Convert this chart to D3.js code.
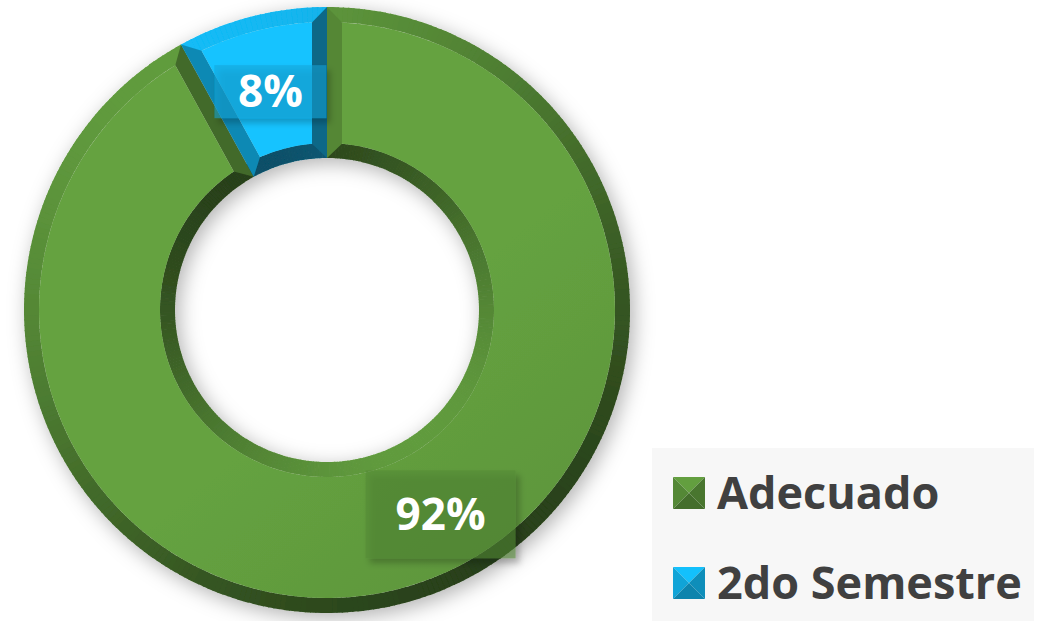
<!DOCTYPE html>
<html>
<head>
<meta charset="utf-8">
<script src="https://cdn.jsdelivr.net/npm/d3@7"></script>
<style>
  body { margin: 0; background: #fff; }
  svg { display: block; }
  text { font-family: "Open Sans", "DejaVu Sans", sans-serif; font-weight: 700; }
</style>
</head>
<body>
<div id="chart"></div>
<script>
var categories = ["Adecuado", "2do Semestre"];
var values = [92, 8];
var labels = ["92%", "8%"];
var colors = ["#5e973c", "#12b6ef"];

(function() {
  var width = 1041, height = 621;
  var cx = 327, cy = 310,
      outerR = 303, innerR = 152, bevel = 15;

  // light comes from the top left
  var light = [-0.55, -0.83];
  var ln = Math.sqrt(light[0] * light[0] + light[1] * light[1]);
  light = [light[0] / ln, light[1] / ln];

  function shade(c, n) {
    var dot = n[0] * light[0] + n[1] * light[1];
    var f = 0.73 + 0.3 * dot;
    var rgb = d3.rgb(c);
    return d3.rgb(Math.min(255, rgb.r * f), Math.min(255, rgb.g * f), Math.min(255, rgb.b * f)).toString();
  }
  function dir(a) { return [Math.sin(a), -Math.cos(a)]; }

  var svg = d3.select("#chart")
    .append("svg")
    .attr("width", width)
    .attr("height", height);

  var defs = svg.append("defs");

  var shadow = defs.append("filter")
    .attr("id", "ringShadow")
    .attr("x", "-20%").attr("y", "-20%")
    .attr("width", "140%").attr("height", "140%");
  shadow.append("feDropShadow")
    .attr("dx", 4).attr("dy", 5)
    .attr("stdDeviation", 10)
    .attr("flood-color", "#000")
    .attr("flood-opacity", 0.3);

  var boxShadow = defs.append("filter")
    .attr("id", "boxShadow")
    .attr("x", "-20%").attr("y", "-20%")
    .attr("width", "150%").attr("height", "150%");
  boxShadow.append("feDropShadow")
    .attr("dx", 4).attr("dy", 5)
    .attr("stdDeviation", 3)
    .attr("flood-color", "#000")
    .attr("flood-opacity", 0.4);

  colors.forEach(function(c, i) {
    var g = defs.append("linearGradient")
      .attr("id", "face" + i)
      .attr("gradientUnits", "userSpaceOnUse")
      .attr("x1", cx - outerR * 0.8).attr("y1", cy - outerR)
      .attr("x2", cx + outerR * 0.8).attr("y2", cy + outerR);
    g.append("stop").attr("offset", "0%").attr("stop-color", d3.rgb(c).brighter(0.2));
    g.append("stop").attr("offset", "100%").attr("stop-color", d3.rgb(c).darker(0.5));
  });

  var pie = d3.pie().sort(null).value(function(d) { return d; });
  var arcs = pie(values);

  var donut = svg.append("g")
    .attr("transform", "translate(" + cx + "," + cy + ")")
    .attr("filter", "url(#ringShadow)");

  var step = Math.PI / 180;

  arcs.forEach(function(a, i) {
    var c = colors[i];
    var slice = donut.append("g").attr("class", "slice slice-" + i);

    // outer and inner bevel rings, lit piece by piece
    var angles = d3.range(a.startAngle, a.endAngle, step);
    angles.forEach(function(t) {
      var t2 = Math.min(t + step + 0.004, a.endAngle);
      var mid = (t + t2) / 2;
      var d = dir(mid);
      slice.append("path")
        .attr("d", d3.arc()({ innerRadius: outerR - bevel, outerRadius: outerR, startAngle: t, endAngle: t2 }))
        .attr("fill", shade(c, d));
      slice.append("path")
        .attr("d", d3.arc()({ innerRadius: innerR, outerRadius: innerR + bevel, startAngle: t, endAngle: t2 }))
        .attr("fill", shade(c, [-d[0], -d[1]]));
    });

    // radial bevels with mitred corners
    var ro = Math.sqrt((outerR - bevel) * (outerR - bevel) - bevel * bevel),
        ri = Math.sqrt((innerR + bevel) * (innerR + bevel) - bevel * bevel);
    [[a.startAngle, 1], [a.endAngle, -1]].forEach(function(e) {
      var t = e[0], s = e[1];
      var d = dir(t), tan = [Math.cos(t), Math.sin(t)];
      var pts = [
        [d[0] * outerR, d[1] * outerR],
        [d[0] * ro + s * bevel * tan[0], d[1] * ro + s * bevel * tan[1]],
        [d[0] * ri + s * bevel * tan[0], d[1] * ri + s * bevel * tan[1]],
        [d[0] * innerR, d[1] * innerR]
      ];
      slice.append("path")
        .attr("d", "M" + pts.join("L") + "Z")
        .attr("fill", shade(c, [-s * tan[0], -s * tan[1]]));
    });

    // flat face
    slice.append("path")
      .attr("d", d3.arc()
        .innerRadius(innerR + bevel)
        .outerRadius(outerR - bevel)
        .padRadius(outerR)
        .padAngle(2 * bevel / outerR)(a))
      .attr("fill", "url(#face" + i + ")");
  });

  // data labels
  var labelArc = d3.arc().innerRadius(innerR).outerRadius(outerR);
  var labelNudge = [[57, -16], [0, 2]];
  var labelBox = [[150, 88], [112, 53]];
  arcs.forEach(function(a, i) {
    var p = labelArc.centroid(a);
    var x = cx + p[0] + labelNudge[i][0],
        y = cy + p[1] + labelNudge[i][1];
    var g = svg.append("g").attr("class", "data-label")
      .attr("transform", "translate(" + x + "," + y + ")");
    g.append("rect")
      .attr("x", -labelBox[i][0] / 2)
      .attr("y", -labelBox[i][1] / 2)
      .attr("width", labelBox[i][0])
      .attr("height", labelBox[i][1])
      .attr("fill", d3.rgb(colors[i]).darker(0.3))
      .attr("fill-opacity", 0.55)
      .attr("filter", "url(#boxShadow)");
    g.append("text")
      .text(labels[i])
      .attr("text-anchor", "middle")
      .attr("dy", "0.36em")
      .attr("fill", "#fff")
      .attr("font-size", 44);
  });

  // legend
  var legend = svg.append("g").attr("class", "legend");
  legend.append("rect")
    .attr("x", 652).attr("y", 448)
    .attr("width", 382).attr("height", 173)
    .attr("fill", "#f7f7f7");

  var legendY = d3.scalePoint()
    .domain(categories)
    .range([493, 583]);

  categories.forEach(function(name, i) {
    var c = d3.rgb(colors[i]);
    var y = legendY(name), x = 673, s = 32;
    var item = legend.append("g")
      .attr("transform", "translate(" + x + "," + (y - s / 2) + ")");
    var tris = [
      [[0, 0], [s, 0], [s / 2, s / 2], c.brighter(0.15)],
      [[0, 0], [s / 2, s / 2], [0, s], c.darker(0.3)],
      [[s, 0], [s, s], [s / 2, s / 2], c.darker(0.7)],
      [[0, s], [s / 2, s / 2], [s, s], c.darker(0.9)]
    ];
    tris.forEach(function(t) {
      item.append("path")
        .attr("d", "M" + t.slice(0, 3).join("L") + "Z")
        .attr("fill", t[3]);
    });
    legend.append("text")
      .text(name)
      .attr("x", 717)
      .attr("y", y)
      .attr("dy", "0.36em")
      .attr("fill", "#404040")
      .attr("font-size", 45);
  });
})();
</script>
</body>
</html>
